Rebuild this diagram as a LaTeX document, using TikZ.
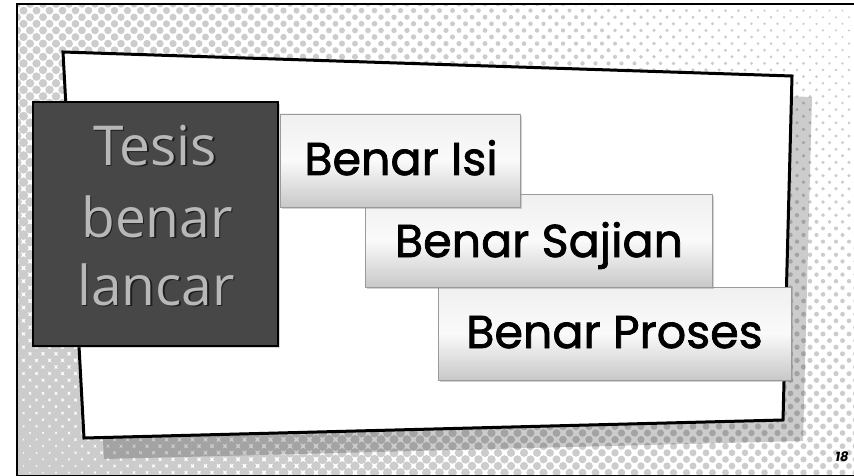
\documentclass[tikz,border=0pt]{standalone}
\usepackage{fontspec}
\setmainfont{Poppins}
\newfontfamily\boxfont{Poppins}[FakeBold=1.6]
\newfontfamily\handfont{Open Sans}
\usetikzlibrary{shadows}
\definecolor{dotgrey}{HTML}{CCCCCC}
\definecolor{boxdark}{HTML}{474747}
\definecolor{handfill}{HTML}{B8B8B8}
\definecolor{handshade}{HTML}{1E1E1E}
\definecolor{gtop}{HTML}{F0F0F0}
\definecolor{gmid}{HTML}{FAFAFA}
\definecolor{gbot}{HTML}{C8C8C8}
\definecolor{gedge}{HTML}{9A9A9A}
\tikzset{
  gradbox/.style={draw=gedge, line width=0.8pt, top color=gtop, bottom color=gbot, middle color=gmid,
    inner sep=0pt, drop shadow={opacity=0.35, shadow xshift=1.5pt, shadow yshift=-2pt}},
  gradtext/.style={anchor=base, inner sep=0pt, font=\boxfont\fontsize{46}{50}\selectfont, text=black},
  handtext/.style={anchor=base, inner sep=0pt, font=\handfont\fontsize{55}{60}\selectfont},
  panelline/.style={line width=3pt, line join=miter}
}
\begin{document}
\begin{tikzpicture}[x=1pt,y=-1pt]
\useasboundingbox (0,0) rectangle (854,476);
\fill[white] (0,0) rectangle (854,476);
% halftone background
\begin{scope}
\clip (17,4) rectangle (854,476);
\foreach \j in {0,...,72}{
  \foreach \i in {0,...,65}{
    \pgfmathsetmacro\xx{17+13*\i+6.5*mod(\j,2)}
    \pgfmathsetmacro\yy{4+6.6*\j}
    \pgfmathsetmacro\rr{max(0.6,4-0.0036*(\xx-17)+0.0042*(\yy-4))}
    \fill[dotgrey] (\xx,\yy) circle[radius=\rr];
  }
}
\end{scope}
% outer frame
\draw[line width=2pt] (17,4) rectangle (856,476);
% panel corners
\coordinate (p1) at (63,52);
\coordinate (p2) at (792,76);
\coordinate (p3) at (783,420);
\coordinate (p4) at (84,438);
% panel shadow
\fill[black, opacity=0.2] ([shift={(20,21)}]p1) -- ([shift={(20,21)}]p2) -- ([shift={(20,21)}]p3) -- ([shift={(20,21)}]p4) -- cycle;
% panel
\draw[panelline, fill=white] (p1) -- (p2) -- (p3) -- (p4) -- cycle;
% dark box
\node[draw=black, line width=2pt, fill=boxdark, minimum width=245pt, minimum height=244pt, inner sep=0pt,
  drop shadow={opacity=0.3, shadow xshift=2pt, shadow yshift=-2pt}] (tesis) at (155.5,224) {};
\foreach \t/\x/\y/\n in {Tesis/155/165/ta, benar/157/237/tb, lancar/156/305/tc}{
  \node[handtext, text=handshade] (\n s) at (\x+1.5,\y+1.5) {\t};
  \node[handtext, text=handfill] (\n) at (\x,\y) {\t};
}
% gradient boxes
\node[gradbox, minimum width=353pt, minimum height=93pt] (proses) at (614.5,333.5) {};
\node[gradbox, minimum width=347pt, minimum height=93pt] (sajian) at (538.5,240.5) {};
\node[gradbox, minimum width=240pt, minimum height=93pt] (isi) at (400,160.5) {};
\node[gradtext] (isit) at (401,175) {Benar Isi};
\node[gradtext] (sajiant) at (539,257) {Benar Sajian};
\node[gradtext] (prosest) at (614.5,348) {Benar Proses};
% page number
\node[font=\bfseries\itshape\fontsize{13}{15}\selectfont, inner sep=0pt] (pg) at (842,457) {18};
\end{tikzpicture}
\end{document}
